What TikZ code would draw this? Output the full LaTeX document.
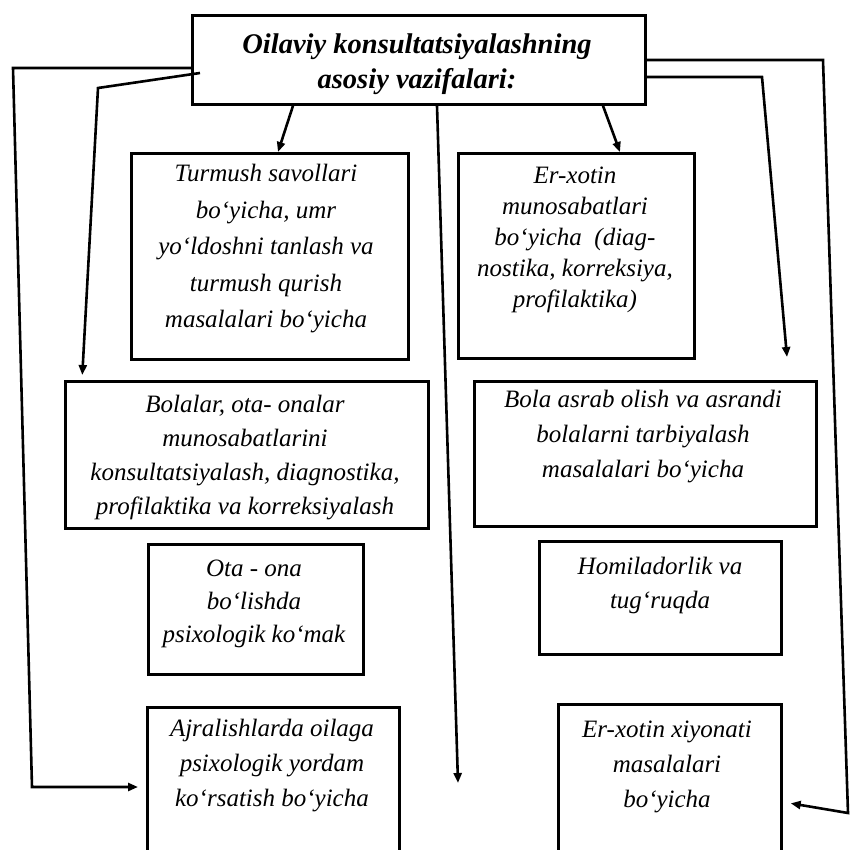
\documentclass[tikz,border=0pt]{standalone}
\usepackage{fontspec}
\setmainfont{Liberation Serif}
\usetikzlibrary{arrows.meta}
\begin{document}
\begin{tikzpicture}[x=1pt,y=-1pt,
  box/.style={draw, line width=2.8pt, inner sep=0pt, anchor=north west},
  txt/.style={align=center, inner sep=0pt, font=\fontsize{25}{#1}\selectfont\itshape},
  txt/.default=34,
  ttl/.style={align=center, inner sep=0pt, font=\fontsize{28.5}{35}\selectfont\bfseries\itshape},
  conn/.style={line width=2.6pt, line join=miter, -{Triangle[length=10pt,width=8pt]}}]
\useasboundingbox (0,0) rectangle (852,850);
\clip (0,0) rectangle (852,850);
\fill[white] (0,0) rectangle (852,850);
% boxes
\node[box, minimum width=453pt, minimum height=89pt] (top) at (191,14) {};
\node[box, minimum width=277pt, minimum height=206pt] (tur) at (130,152) {};
\node[box, minimum width=236pt, minimum height=205pt] (erx) at (457,152) {};
\node[box, minimum width=363pt, minimum height=147pt] (bol) at (64,380) {};
\node[box, minimum width=342pt, minimum height=145pt] (asr) at (473,380) {};
\node[box, minimum width=215pt, minimum height=130pt] (ota) at (147,543) {};
\node[box, minimum width=242pt, minimum height=113pt] (hom) at (538,540) {};
\node[box, minimum width=252pt, minimum height=200pt] (ajr) at (146,706) {};
\node[box, minimum width=223pt, minimum height=200pt] (xiy) at (557,703) {};
% texts
\node[ttl] (ttop) at (417,64) {Oilaviy konsultatsiyalashning\\asosiy vazifalari:};
\node[txt=36.5] (ttur) at (266,249) {Turmush savollari\\bo‘yicha, umr\\yo‘ldoshni tanlash va\\turmush qurish\\masalalari bo‘yicha};
\node[txt=31] (terx) at (575,240) {Er-xotin\\munosabatlari\\bo‘yicha~~(diag-\\nostika, korreksiya,\\profilaktika)};
\node[txt] (tbol) at (245,458) {Bolalar, ota- onalar\\munosabatlarini\\konsultatsiyalash, diagnostika,\\profilaktika va korreksiyalash};
\node[txt=35] (tasr) at (643,437) {Bola asrab olish va asrandi\\bolalarni tarbiyalash\\masalalari bo‘yicha};
\node[txt=33] (tota) at (254,604) {Ota - ona\\bo‘lishda\\psixologik ko‘mak};
\node[txt=34] (thom) at (660,585) {Homiladorlik va\\tug‘ruqda};
\node[txt=35] (tajr) at (272,766) {Ajralishlarda oilaga\\psixologik yordam\\ko‘rsatish bo‘yicha};
\node[txt=35] (txiy) at (667,767) {Er-xotin xiyonati\\masalalari\\bo‘yicha};
% free ends
\coordinate (m1) at (458,783);
\coordinate (r1) at (787,357);
% connectors
\draw[conn, shorten >=8pt] (top.west |- 0,68) -- (13,68) -- (32,787) -- (ajr.west |- 0,787);
\draw[conn, shorten >=5pt] ([xshift=9pt]top.west |- 0,73) -- (98,88) -- (82,0 |- bol.north);
\draw[conn] (293,0 |- top.south) -- (278,0 |- tur.north);
\draw[conn] (437,0 |- top.south) -- (m1);
\draw[conn] (603,0 |- top.south) -- (620,0 |- erx.north);
\draw[conn] (top.east |- 0,77) -- (762,77) -- (r1);
\draw[conn, shorten >=8pt] (top.east |- 0,60) -- (823,60) -- (848,813) -- (xiy.east |- 0,802);
\end{tikzpicture}
\end{document}
